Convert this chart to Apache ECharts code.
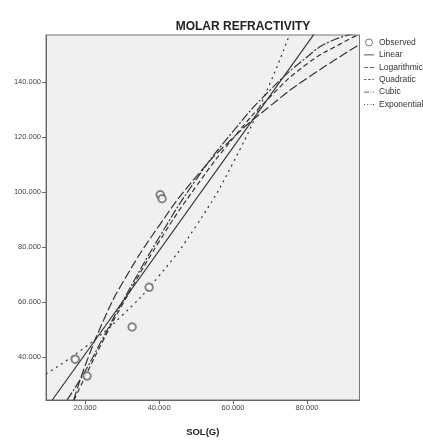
<!DOCTYPE html>
<html><head><meta charset="utf-8">
<script src="https://cdn.jsdelivr.net/npm/echarts@6/dist/echarts.min.js"></script>
<style>html,body{margin:0;padding:0;background:#fff}#c{width:423px;height:442px}</style>
</head><body><div id="c"></div>
<script>
const xTicks = [20, 40, 60, 80];
const xTickLabels = ['20.000', '40.000', '60.000', '80.000'];
const yTicks = [40, 60, 80, 100, 120, 140];
const yTickLabels = ['40.000', '60.000', '80.000', '100.000', '120.000', '140.000'];

const observedX = [17.3, 20.5, 32.7, 37.3, 40.3, 40.8];
const observedY = [39.3, 33.2, 51.0, 65.4, 99.0, 97.6];

const linearX = [11.1, 81.9];
const linearY = [24.5, 157.3];

const logX = [16.9, 20, 25, 30, 40, 50, 60, 70, 80, 94.3];
const logY = [24.5, 37.0, 53.5, 66.8, 87.8, 105.5, 119.7, 131.2, 141.3, 153.6];

const quadX = [17, 20, 25, 30, 40, 50, 60, 70, 80, 90, 94.3];
const quadY = [24.5, 33, 46.5, 59, 82, 102, 119.5, 134.5, 146.5, 154.5, 157.3];

const cubicX = [15.1, 20, 25, 30, 40, 50, 60, 70, 80, 86, 94.3];
const cubicY = [24.5, 35, 47.5, 60, 83.5, 104.5, 122, 137, 149, 154.5, 158];

const expX = [9.4, 20, 30, 40, 50, 60, 70, 75.5];
const expY = [34.0, 43.7, 55.2, 69.6, 87.7, 110.6, 139.5, 158];

const pairs = (xs, ys) => xs.map((x, i) => [x, ys[i]]);
const ink = '#333';
const font = '"Liberation Sans", Arial, sans-serif';

// legend glyphs: thin bars drawn as paths (solid / long dash / dash / dash-dot / dots)
const iconSolid = 'path://M0,0H12V1H0Z';
const iconLong = 'path://M0,0H5V1H0ZM7,0H12V1H7Z';
const iconDash = 'path://M0,0H3V1H0ZM5,0H8V1H5ZM10,0H12V1H10Z';
const iconDashDot = 'path://M0,0H6V1H0ZM8,0H9V1H8ZM11,0H12V1H11Z';
const iconDot = 'path://M0,0H1V1H0ZM4,0H5V1H4ZM8,0H9V1H8ZM11,0H12V1H11Z';

const lineSeries = (name, xs, ys, type, smooth) => ({
  name, type: 'line', data: pairs(xs, ys), symbol: 'none', smooth: smooth,
  lineStyle: { color: ink, width: 1.2, type: type },
  itemStyle: { color: ink }, clip: true, z: 3
});

const chart = echarts.init(document.getElementById('c'));
chart.setOption({
  animation: false,
  backgroundColor: '#fff',
  title: {
    text: 'MOLAR REFRACTIVITY', left: 238, top: 16, textAlign: 'center',
    textStyle: { fontFamily: font, fontSize: 12, fontWeight: 'bold', color: '#222' }
  },
  legend: {
    orient: 'vertical', left: 364, top: 38, itemWidth: 10, itemHeight: 7, itemGap: 3.4,
    padding: 0, symbolKeepAspect: true,
    textStyle: { fontFamily: font, fontSize: 8.5, color: '#333' },
    data: [
      { name: 'Observed', icon: 'circle', itemStyle: { color: 'rgba(0,0,0,0)', borderColor: '#555', borderWidth: 1 } },
      { name: 'Linear', icon: iconSolid },
      { name: 'Logarithmic', icon: iconLong },
      { name: 'Quadratic', icon: iconDash },
      { name: 'Cubic', icon: iconDashDot },
      { name: 'Exponential', icon: iconDot }
    ]
  },
  grid: {
    left: 46, top: 35, right: 63.5, bottom: 39, show: true,
    backgroundColor: '#f0f0f0', borderColor: '#777', borderWidth: 1
  },
  xAxis: {
    type: 'value', min: 9.4, max: 94.2,
    name: 'SOL(G)', nameLocation: 'middle', nameGap: 27,
    nameTextStyle: { fontFamily: font, fontSize: 9.5, fontWeight: 'bold', color: '#222' },
    axisLine: { show: true, lineStyle: { color: '#666' } },
    axisTick: { show: true, length: 4, customValues: xTicks, lineStyle: { color: '#666' } },
    axisLabel: { customValues: xTicks, fontFamily: font, fontSize: 7.5, color: '#444', margin: 4,
      formatter: v => xTickLabels[xTicks.indexOf(v)] },
    splitLine: { show: false }
  },
  yAxis: {
    type: 'value', min: 24.5, max: 157,
    axisLine: { show: true, lineStyle: { color: '#666' } },
    axisTick: { show: true, length: 4, customValues: yTicks, lineStyle: { color: '#666' } },
    axisLabel: { customValues: yTicks, fontFamily: font, fontSize: 7.5, color: '#444', margin: 5,
      formatter: v => yTickLabels[yTicks.indexOf(v)] },
    splitLine: { show: false }
  },
  series: [
    { name: 'Observed', type: 'scatter', data: pairs(observedX, observedY),
      symbol: 'emptyCircle', symbolSize: 7.5,
      itemStyle: { color: '#666', borderColor: '#666', borderWidth: 1 }, z: 4 },
    lineSeries('Linear', linearX, linearY, 'solid', false),
    lineSeries('Logarithmic', logX, logY, [9, 3], true),
    lineSeries('Quadratic', quadX, quadY, [5, 3], true),
    lineSeries('Cubic', cubicX, cubicY, [9, 2, 2, 2], true),
    lineSeries('Exponential', expX, expY, [2, 4], true)
  ]
});
</script></body></html>
